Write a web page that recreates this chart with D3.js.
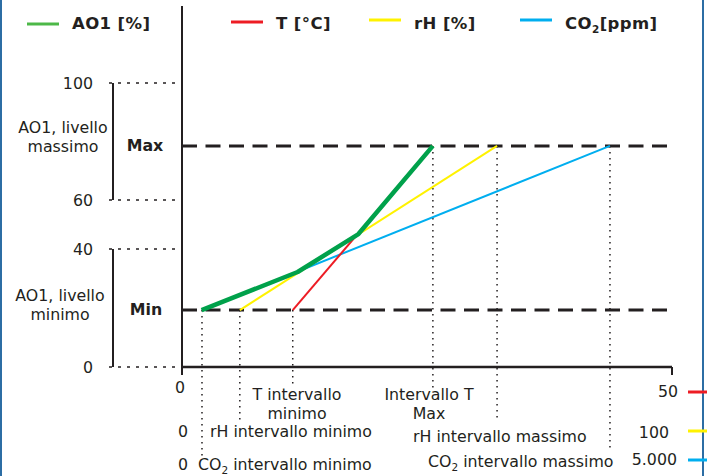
<!DOCTYPE html>
<html>
<head>
<meta charset="utf-8">
<script src="https://cdn.jsdelivr.net/npm/d3@7"></script>
<style>
  body { margin: 0; background: #fff; }
  text { font-family: "DejaVu Sans", Verdana, sans-serif; fill: #231f20; }
</style>
</head>
<body>
<svg id="chart" width="707" height="476"></svg>
<script>
// Data
const series = ["AO1 [%]", "T [°C]", "rH [%]", "CO|2|[ppm]"]
const seriesColors = ["#4db848", "#ed1c24", "#fff200", "#00aeef"]
const yTicks = [0, 40, 60, 100]
const aoLevels = [19.3, 78.5]            // Min, Max output level
const tRange = [11.3, 25.6]              // °C
const rhRange = [11.8, 64.3]             // %
const co2Range = [204, 4367]             // ppm
const aoT = [2.0, 11.8, 18.0, 25.6]      // AO1 break points (on the T scale)
const aoOut = [19.3, 32.2, 46.1, 78.5]
const axisMax = ["50", "100", "5.000"]

// Layout
const svg = d3.select("#chart")
const ink = "#231f20"
const fs = 15.8
const x0 = 182, x1 = 672, yBase = 367

const xT = d3.scaleLinear().domain([0, 50]).range([x0, x1])
const xRH = d3.scaleLinear().domain([0, 100]).range([x0, x1])
const xCO2 = d3.scaleLinear().domain([0, 5000]).range([x0, x1])
// schematic, not linear
const y = d3.scaleLinear().domain(yTicks).range([367, 249, 200, 83])

// page borders
svg.append("rect").attr("x", 0).attr("y", 0).attr("width", 2).attr("height", 476).attr("fill", "#2c6da4")
svg.append("rect").attr("x", 702).attr("y", 0).attr("width", 2).attr("height", 476).attr("fill", "#2c6da4")

// dotted guides for y ticks
svg.selectAll(".ytick").data(yTicks).enter().append("line")
  .attr("x1", 109).attr("x2", x0)
  .attr("y1", d => y(d)).attr("y2", d => y(d))
  .attr("stroke", ink).attr("stroke-width", 1.7).attr("stroke-dasharray", "3,6")

svg.selectAll(".ylab").data(yTicks).enter().append("text")
  .attr("x", 93).attr("y", d => y(d)).attr("dy", "0.36em")
  .attr("text-anchor", "end").attr("font-size", fs)
  .text(d => d)

// brackets
const brackets = [[60, 100], [0, 40]]
svg.selectAll(".bracket").data(brackets).enter().append("line")
  .attr("x1", 113).attr("x2", 113)
  .attr("y1", d => y(d[0])).attr("y2", d => y(d[1]))
  .attr("stroke", ink).attr("stroke-width", 2)

function label(xp, yp, lines, anchor, bold) {
  const t = svg.append("text").attr("font-size", fs).attr("text-anchor", anchor || "middle")
  if (bold) t.attr("font-weight", "bold")
  lines.forEach((l, i) => t.append("tspan").attr("x", xp).attr("y", yp + i * 19).text(l))
  return t
}
label(63, 133, ["AO1, livello", "massimo"])
label(60, 301, ["AO1, livello", "minimo"])
label(145, y(aoLevels[1]) + 5, ["Max"], "middle", true)
label(146, y(aoLevels[0]) + 5, ["Min"], "middle", true)

// vertical dotted guides
const guides = [
  {x: xT(tRange[0]), lvl: aoLevels[0], bottom: 386},
  {x: xT(tRange[1]), lvl: aoLevels[1], bottom: 388},
  {x: xRH(rhRange[0]), lvl: aoLevels[0], bottom: 422},
  {x: xRH(rhRange[1]), lvl: aoLevels[1], bottom: 422},
  {x: xCO2(co2Range[0]), lvl: aoLevels[0], bottom: 457},
  {x: xCO2(co2Range[1]), lvl: aoLevels[1], bottom: 452}
]
svg.selectAll(".guide").data(guides).enter().append("line")
  .attr("x1", d => d.x).attr("x2", d => d.x)
  .attr("y1", d => y(d.lvl)).attr("y2", d => d.bottom)
  .attr("stroke", ink).attr("stroke-width", 1.5).attr("stroke-dasharray", "1.5,4.5")

// level lines
svg.selectAll(".level").data(aoLevels).enter().append("line")
  .attr("x1", x0).attr("x2", x1)
  .attr("y1", d => y(d)).attr("y2", d => y(d))
  .attr("stroke", ink).attr("stroke-width", 3).attr("stroke-dasharray", "15,8.5")

// axes
svg.append("line").attr("x1", x0).attr("x2", x0).attr("y1", 6).attr("y2", 375)
  .attr("stroke", ink).attr("stroke-width", 2)
svg.append("line").attr("x1", x0).attr("x2", x1).attr("y1", yBase).attr("y2", yBase)
  .attr("stroke", ink).attr("stroke-width", 2.5)
svg.append("line").attr("x1", x1).attr("x2", x1).attr("y1", yBase).attr("y2", 375)
  .attr("stroke", ink).attr("stroke-width", 2)

// signal lines
const line = d3.line()
const signals = [
  {c: seriesColors[3], pts: co2Range.map((v, i) => [xCO2(v), y(aoLevels[i])])},
  {c: seriesColors[2], pts: rhRange.map((v, i) => [xRH(v), y(aoLevels[i])])},
  {c: seriesColors[1], pts: tRange.map((v, i) => [xT(v), y(aoLevels[i])])}
]
svg.selectAll(".sig").data(signals).enter().append("path")
  .attr("d", d => line(d.pts)).attr("fill", "none")
  .attr("stroke", d => d.c).attr("stroke-width", 2)

svg.append("path")
  .attr("d", line(aoT.map((v, i) => [xT(v), y(aoOut[i])])))
  .attr("fill", "none").attr("stroke", "#00a14b").attr("stroke-width", 4.5)
  .attr("stroke-linejoin", "round")

// legend
const legendX = [27, 231, 369, 520]
const legendY = [24, 22, 20, 20]
const lg = svg.selectAll(".leg").data(series).enter().append("g")
lg.append("line")
  .attr("x1", (d, i) => legendX[i]).attr("x2", (d, i) => legendX[i] + 32)
  .attr("y1", (d, i) => legendY[i]).attr("y2", (d, i) => legendY[i])
  .attr("stroke", (d, i) => seriesColors[i]).attr("stroke-width", 3)
lg.append("text")
  .attr("x", (d, i) => legendX[i] + 45).attr("y", 29)
  .attr("font-size", 16.5).attr("font-weight", "bold").attr("letter-spacing", 0.4)
  .each(function(d) {
    const parts = d.split("|")
    const t = d3.select(this)
    t.append("tspan").text(parts[0])
    if (parts.length > 1) {
      t.append("tspan").attr("font-size", 10.5).attr("dy", 4).text(parts[1])
      t.append("tspan").attr("dy", -4).text(parts[2])
    }
  })

// x labels
label(180, 393, ["0"])
label(297, 400, ["T intervallo", "minimo"])
label(429, 400, ["Intervallo T", "Max"])
label(183, 437, ["0"])
label(210, 437, ["rH intervallo minimo"], "start")
label(413, 442, ["rH intervallo massimo"], "start")
label(183, 470, ["0"])

function co2Label(xp, yp, rest) {
  const t = svg.append("text").attr("x", xp).attr("y", yp).attr("font-size", fs)
  t.append("tspan").text("CO")
  t.append("tspan").attr("font-size", 10.5).attr("dy", 4).text("2")
  t.append("tspan").attr("dy", -4).text(rest)
}
co2Label(198, 470, " intervallo minimo")
co2Label(428, 467, " intervallo massimo")

// scale maxima
const maxY = [397, 438, 465]
const markY = [392, 431, 460]
const maxX = [678, 669, 677]
svg.selectAll(".maxlab").data(axisMax).enter().append("text")
  .attr("x", (d, i) => maxX[i]).attr("y", (d, i) => maxY[i])
  .attr("text-anchor", "end").attr("font-size", fs)
  .text(d => d)
svg.selectAll(".maxmark").data(axisMax).enter().append("line")
  .attr("x1", 688).attr("x2", 707)
  .attr("y1", (d, i) => markY[i]).attr("y2", (d, i) => markY[i])
  .attr("stroke", (d, i) => seriesColors[i + 1]).attr("stroke-width", 3)
</script>
</body>
</html>
